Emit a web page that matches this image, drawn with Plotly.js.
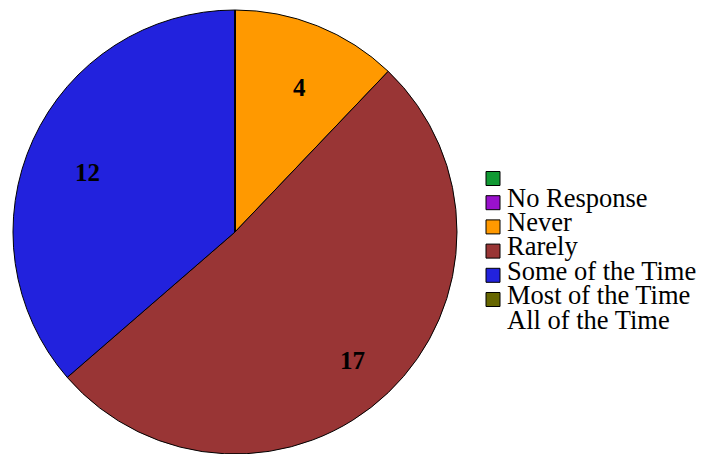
<!DOCTYPE html>
<html>
<head>
<meta charset="utf-8">
<script src="https://cdn.plot.ly/plotly-3.0.1.min.js"></script>
<style>html,body{margin:0;padding:0;background:#fff;}#chart{width:704px;height:454px;}</style>
</head>
<body>
<div id="chart"></div>
<script>
const categories = ["No Response", "Never", "Rarely", "Some of the Time", "Most of the Time", "All of the Time"];
const counts = [0, 4, 17, 12, 0, 0];
const sliceColors = ["#9911cc", "#ff9900", "#993535", "#2222dd", "#666600", "#cccccc"];
const legendSquareColors = ["#119933", "#9911cc", "#ff9900", "#993535", "#2222dd", "#666600"];
const legendLabels = ["No Response", "Never", "Rarely", "Some of the Time", "Most of the Time", "All of the Time"];

const W = 704, H = 454;
const px = x => x / W;
const py = y => 1 - y / H;
const SERIF = "Liberation Serif, Times New Roman, Times, serif";

// pie geometry (pixels)
const cx = 235, cy = 232, R = 222;

const trace = {
  type: "pie",
  labels: categories,
  values: counts,
  sort: false,
  direction: "clockwise",
  rotation: 0,
  marker: { colors: sliceColors, line: { color: "#000", width: 1 } },
  textinfo: "none",
  domain: { x: [px(cx - R), px(cx + R)], y: [0, 2 * R / H] },
  showlegend: false,
  hoverinfo: "label+value"
};

const shapes = [];
const annotations = [];

// value labels positioned from the data (slice bisector angles)
const total = counts.reduce((a, b) => a + b, 0);
let cum = 0;
counts.forEach(v => {
  if (v > 0) {
    const mid = (cum + v / 2) / total * 2 * Math.PI;
    const r = 0.745 * R;
    const x = cx + r * Math.sin(mid) + 3;
    const y = cy - r * Math.cos(mid) + 9;
    annotations.push({
      xref: "paper", yref: "paper", x: px(x), y: py(y),
      xanchor: "center", yanchor: "middle", showarrow: false,
      text: "<b>" + v + "</b>",
      font: { family: SERIF, size: 25, color: "#000" }
    });
  }
  cum += v;
});

const rowTop = 171.5, rowStep = 24.2, sq = 14;
legendSquareColors.forEach((c, i) => {
  const t = rowTop + i * rowStep;
  shapes.push({
    type: "rect", xref: "paper", yref: "paper",
    x0: px(486), x1: px(486 + sq), y0: py(t + sq), y1: py(t),
    fillcolor: c, line: { color: "#000", width: 1 }
  });
});
legendLabels.forEach((lab, i) => {
  const ty = 197.5 + i * 24.4;
  annotations.push({
    xref: "paper", yref: "paper", x: px(505), y: py(ty),
    xanchor: "left", yanchor: "middle", showarrow: false,
    text: lab, font: { family: SERIF, size: 26.5, color: "#000" }
  });
});

const layout = {
  width: W, height: H,
  margin: { l: 0, r: 0, t: 0, b: 0 },
  paper_bgcolor: "#fff",
  showlegend: false,
  shapes: shapes,
  annotations: annotations
};

Plotly.newPlot("chart", [trace], layout, { staticPlot: true });
</script>
</body>
</html>
